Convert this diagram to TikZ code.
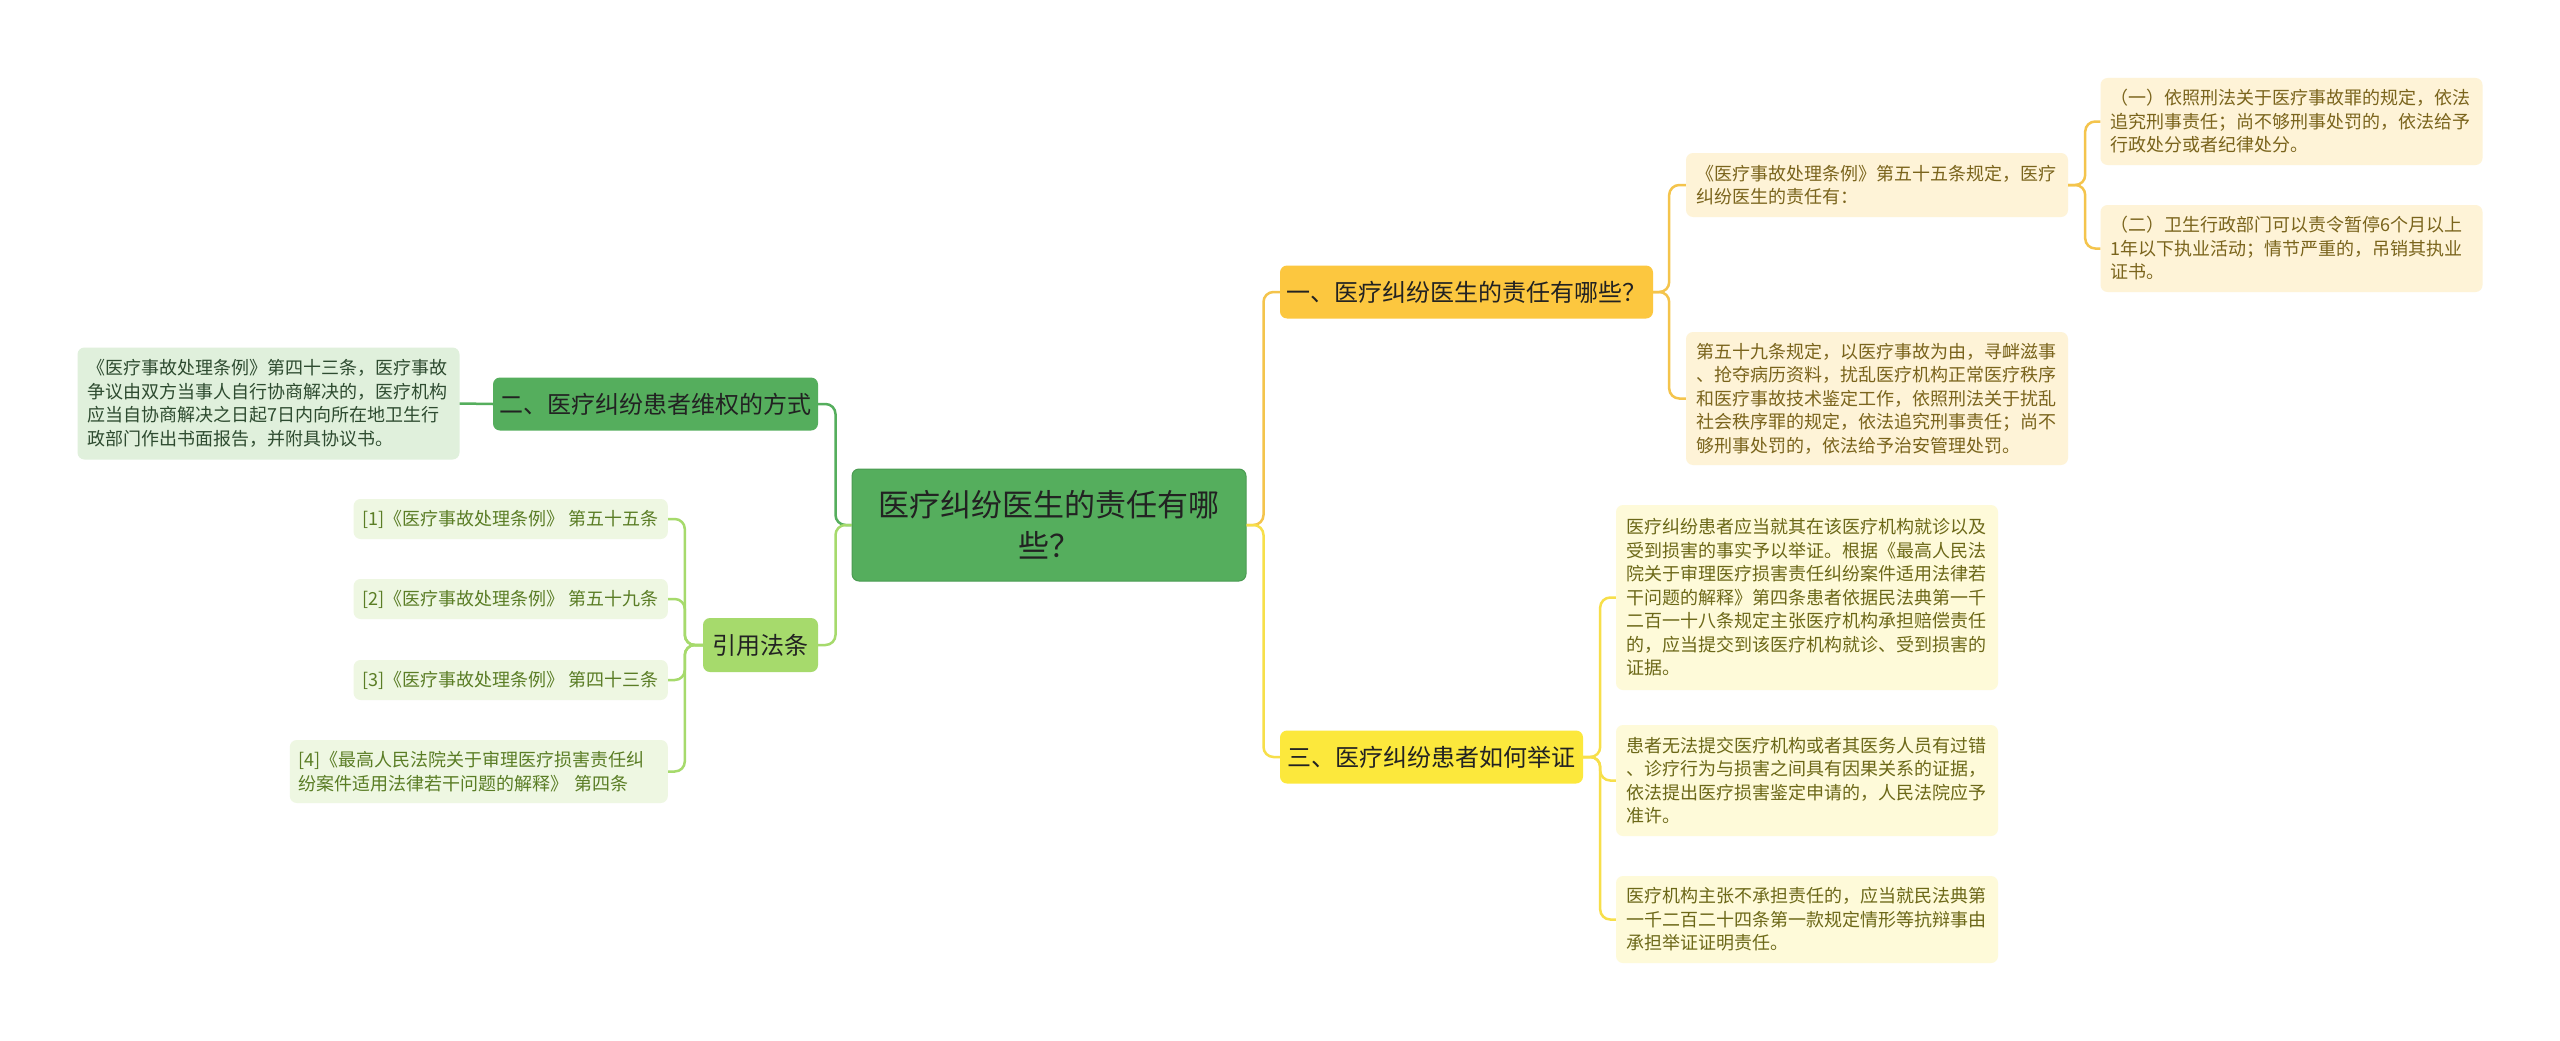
\documentclass[tikz,border=0pt]{standalone}
\usepackage{fontspec}
\setmainfont{Noto Sans CJK SC}
\usepackage{xcolor}
\definecolor{RootGreen}{HTML}{55AE5D}
\definecolor{RootEdge}{HTML}{4A9B52}
\definecolor{TopicText}{HTML}{222222}
\definecolor{LimeGreen}{HTML}{A6DA6C}
\definecolor{AmberFill}{HTML}{FCC73F}
\definecolor{AmberLine}{HTML}{F4C44C}
\definecolor{YellowFill}{HTML}{FCE83C}
\definecolor{YellowLine}{HTML}{F7DF4A}
\definecolor{CreamAmber}{HTML}{FEF3D7}
\definecolor{CreamYellow}{HTML}{FEFAD9}
\definecolor{AmberText}{HTML}{7A641C}
\definecolor{YellowText}{HTML}{6C6818}
\definecolor{PaleGreen}{HTML}{E0F0DC}
\definecolor{PaleGreenText}{HTML}{2E4B30}
\definecolor{PaleLime}{HTML}{EEF7E2}
\definecolor{LimeText}{HTML}{5A7D25}

\begin{document}
\begin{tikzpicture}[x=1pt, y=-1pt,
    topic/.style={rectangle, rounded corners=7pt, align=center, inner sep=0pt, text=TopicText, font=\fontsize{24}{30}\selectfont},
    leaf/.style={rectangle, rounded corners=7pt, align=left, text width=362pt, inner xsep=10pt, inner ysep=0pt, font=\fontsize{18}{23.5}\selectfont},
    cite/.style={rectangle, rounded corners=7pt, align=left, anchor=east, inner xsep=9pt, inner ysep=0pt, minimum height=40pt, fill=PaleLime, text=LimeText, font=\fontsize{18}{23.5}\selectfont},
    link/.style={line width=2.5pt, rounded corners=10pt}]
    \fill [white] (0,0) rectangle (2560,1041);
    \useasboundingbox (0,0) rectangle (2560,1041);

    % Central topic and main branches
    \node [topic, fill=RootGreen, draw=RootEdge, line width=1pt, minimum width=394pt, minimum height=112pt, font=\fontsize{31}{41}\selectfont] (root) at (1049,525) {医疗纠纷医生的责任有哪\\些？};
    \node [topic, fill=AmberFill, minimum width=373pt, minimum height=53pt] (sec1) at (1466.5,292) {一、医疗纠纷医生的责任有哪些？};
    \node [topic, fill=YellowFill, minimum width=303pt, minimum height=53pt] (sec3) at (1431.5,757) {三、医疗纠纷患者如何举证};
    \node [topic, fill=RootGreen, minimum width=325pt, minimum height=53pt] (sec2) at (655.5,404) {二、医疗纠纷患者维权的方式};
    \node [topic, fill=LimeGreen, minimum width=115pt, minimum height=54pt] (refs) at (760.5,645) {引用法条};

    % Left side details
    \node [leaf, fill=PaleGreen, text=PaleGreenText, minimum height=112pt] (sec2txt) at (268.5,403.5) {《医疗事故处理条例》第四十三条，医疗事故\\争议由双方当事人自行协商解决的，医疗机构\\应当自协商解决之日起7日内向所在地卫生行\\政部门作出书面报告，并附具协议书。};
    \node [cite] (r1) at (668,519) {[1]《医疗事故处理条例》 第五十五条};
    \node [cite] (r2) at (668,599) {[2]《医疗事故处理条例》 第五十九条};
    \node [cite] (r3) at (668,680) {[3]《医疗事故处理条例》 第四十三条};
    \node [cite, text width=360pt, minimum height=63pt] (r4) at (668,771.5) {[4]《最高人民法院关于审理医疗损害责任纠\\纷案件适用法律若干问题的解释》 第四条};

    % Right side details
    \node [leaf, fill=CreamAmber, text=AmberText, minimum height=64pt] (a1) at (1877,185) {《医疗事故处理条例》第五十五条规定，医疗\\纠纷医生的责任有：};
    \node [leaf, fill=CreamAmber, text=AmberText, minimum height=87pt] (a11) at (2291.5,121.5) {（一）依照刑法关于医疗事故罪的规定，依法\\追究刑事责任；尚不够刑事处罚的，依法给予\\行政处分或者纪律处分。};
    \node [leaf, fill=CreamAmber, text=AmberText, minimum height=87pt] (a12) at (2291.5,248.5) {（二）卫生行政部门可以责令暂停6个月以上\\1年以下执业活动；情节严重的，吊销其执业\\证书。};
    \node [leaf, fill=CreamAmber, text=AmberText, minimum height=133pt] (a2) at (1877,398.5) {第五十九条规定，以医疗事故为由，寻衅滋事\\、抢夺病历资料，扰乱医疗机构正常医疗秩序\\和医疗事故技术鉴定工作，依照刑法关于扰乱\\社会秩序罪的规定，依法追究刑事责任；尚不\\够刑事处罚的，依法给予治安管理处罚。};
    \node [leaf, fill=CreamYellow, text=YellowText, minimum height=185pt] (b1) at (1807,597.5) {医疗纠纷患者应当就其在该医疗机构就诊以及\\受到损害的事实予以举证。根据《最高人民法\\院关于审理医疗损害责任纠纷案件适用法律若\\干问题的解释》第四条患者依据民法典第一千\\二百一十八条规定主张医疗机构承担赔偿责任\\的，应当提交到该医疗机构就诊、受到损害的\\证据。};
    \node [leaf, fill=CreamYellow, text=YellowText, minimum height=111pt] (b2) at (1807,780.5) {患者无法提交医疗机构或者其医务人员有过错\\、诊疗行为与损害之间具有因果关系的证据，\\依法提出医疗损害鉴定申请的，人民法院应予\\准许。};
    \node [leaf, fill=CreamYellow, text=YellowText, minimum height=87pt] (b3) at (1807,919.5) {医疗机构主张不承担责任的，应当就民法典第\\一千二百二十四条第一款规定情形等抗辩事由\\承担举证证明责任。};

    % Connectors
    \path [draw, link, RootGreen] (root.west) -- ++(-16,0) |- (sec2.east);
    \path [draw, link, LimeGreen] (root.west) -- ++(-16,0) |- (refs.east);
    \path [draw, link, RootGreen] (sec2.west) -- (sec2txt.east);
    \foreach \r in {r1,r2,r3,r4}
        \path [draw, link, LimeGreen] (refs.west) -- ++(-18,0) |- (\r.east);
    \path [draw, link, AmberLine] (root.east) -- ++(17,0) |- (sec1.west);
    \path [draw, link, YellowLine] (root.east) -- ++(17,0) |- (sec3.west);
    \foreach \c in {a1,a2}
        \path [draw, link, AmberLine] (sec1.east) -- ++(16,0) |- (\c.west);
    \foreach \c in {a11,a12}
        \path [draw, link, AmberLine] (a1.east) -- ++(17,0) |- (\c.west);
    \foreach \c in {b1,b2,b3}
        \path [draw, link, YellowLine] (sec3.east) -- ++(17,0) |- (\c.west);
\end{tikzpicture}
\end{document}
